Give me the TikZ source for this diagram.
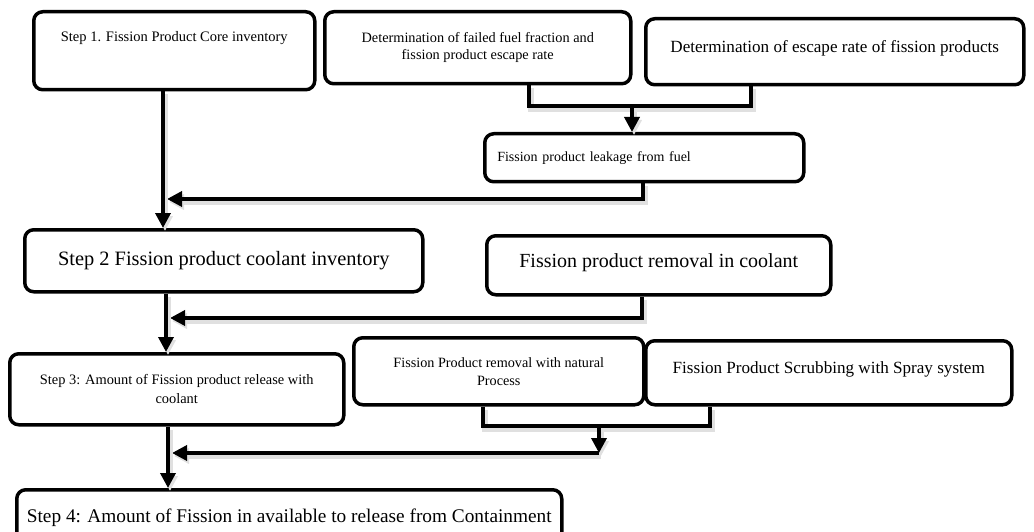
\documentclass[tikz,border=0pt]{standalone}
\usepackage{fontspec}
\setmainfont{Liberation Serif}
\usetikzlibrary{arrows.meta,calc}
\tikzset{
  box/.style={draw=black, line width=3.5pt, rounded corners=9pt, fill=white, inner sep=0pt, anchor=north west, align=center},
  conn/.style={line width=3.5pt, black, preaction={draw=black!12, line width=6pt, transform canvas={shift={(2pt,-3pt)}}}},
  arr/.style={conn, -{Triangle[length=15pt,width=15pt]}},
}
\newcommand{\fs}[1]{\fontsize{#1}{#1}\selectfont}
\begin{document}
\begin{tikzpicture}[x=1pt,y=-1pt]
\useasboundingbox (0,0) rectangle (1034,532);
% boxes
\node[box, minimum width=281pt, minimum height=78pt] (s1) at (32,10) {};
\node[font=\fs{14.5}] (s1t) at ($(s1.north)+(0,28)$) {Step 1. Fission Product Core inventory};
\node[box, minimum width=306pt, minimum height=72pt, font=\fontsize{14.3}{17}\selectfont] (b2) at (323,10) {Determination of failed fuel fraction and\\ fission product escape rate};
\node[box, minimum width=378pt, minimum height=66pt, text depth=11pt, font=\fs{17.1}] (b3) at (644,17) {Determination of escape rate of fission products};
\node[box, minimum width=319pt, minimum height=48pt, text width=294pt, align=left, inner xsep=12.5pt, font=\fs{14}] (b4) at (483,132) {Fission product leakage from fuel};
\node[box, minimum width=398pt, minimum height=62pt, font=\fs{20.4}] (s2) at (23,228) {Step 2 Fission product coolant inventory};
\node[box, minimum width=344pt, minimum height=59pt, text depth=8.5pt, font=\fs{20}] (b6) at (485,234) {Fission product removal in coolant};
\node[box, minimum width=334pt, minimum height=71pt, font=\fontsize{14.4}{19}\selectfont] (s3) at (8,352) {Step 3: Amount of Fission product release with\\ coolant};
\node[box, minimum width=290pt, minimum height=67pt, font=\fontsize{14.2}{18}\selectfont] (b8) at (352,336) {Fission Product removal with natural\\ Process};
\node[box, minimum width=366pt, minimum height=64pt, text depth=9.5pt, font=\fs{17.1}] (b9) at (644,339) {Fission Product Scrubbing with Spray system};
\node[box, minimum width=545pt, minimum height=56pt, font=\fs{19.3}] (s4) at (15,488) {Step 4: Amount of Fission in available to release from Containment};
% reference coordinates for connector positions
\coordinate (xa) at (163,0);
\coordinate (xb) at (166,0);
\coordinate (xc) at (168,0);
\coordinate (x2) at (529,0);
\coordinate (x3) at (751,0);
\coordinate (x4) at (632,0);
\coordinate (x5) at (643,0);
\coordinate (x6) at (642,0);
\coordinate (x8) at (483,0);
\coordinate (x9) at (710,0);
\coordinate (x10) at (599,0);
\coordinate (ya) at (0,106);
\coordinate (yb) at (0,199);
\coordinate (yc) at (0,318);
\coordinate (yd) at (0,426);
\coordinate (ye) at (0,453);
% connectors
\draw[conn] (b2.south -| x2) |- (ya -| x3) -- (b3.south -| x3);
\draw[arr] (ya -| x4) -- (b4.north -| x4);
\draw[arr] (b4.south -| x5) |- ($(yb -| xa)+(4,0)$);
\draw[arr] (s1.south -| xa) -- (s2.north -| xa);
\draw[arr] (b6.south -| x6) |- ($(yc -| xb)+(4,0)$);
\draw[arr] (s2.south -| xb) -- (s3.north -| xb);
\draw[conn] (b8.south -| x8) |- (yd -| x9) -- (b9.south -| x9);
\draw[arr] (yd -| x10) -- (ye -| x10);
\draw[arr] (ye -| x10) -- ($(ye -| xc)+(4,0)$);
\draw[arr] (s3.south -| xc) -- (s4.north -| xc);
\end{tikzpicture}
\end{document}
